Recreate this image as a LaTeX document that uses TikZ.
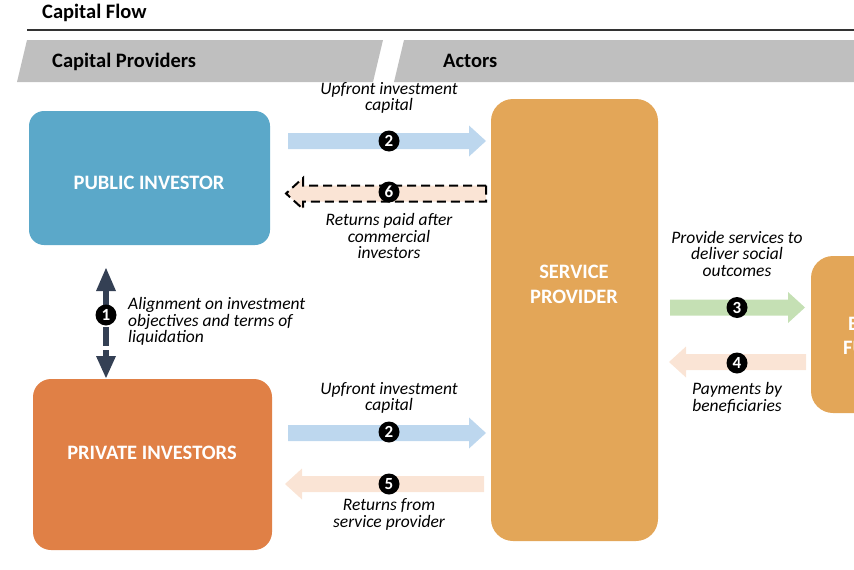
\documentclass[tikz,border=0pt]{standalone}
\usepackage{fontspec}
\setmainfont{Carlito}
\definecolor{pubblue}{RGB}{91,168,201}
\definecolor{privorange}{RGB}{224,128,70}
\definecolor{servorange}{RGB}{227,166,88}
\definecolor{bannergray}{RGB}{191,191,191}
\definecolor{arrblue}{RGB}{189,215,238}
\definecolor{arrgreen}{RGB}{197,224,180}
\definecolor{arrpeach}{RGB}{250,228,213}
\definecolor{slate}{RGB}{52,64,84}
\newcommand\blockR[4]{\path[#4] (#1,#3-8) -- (#2-17,#3-8) -- (#2-17,#3-15.5) -- (#2,#3) -- (#2-17,#3+15.5) -- (#2-17,#3+8) -- (#1,#3+8) -- cycle;}
\newcommand\blockL[4]{\path[#4] (#1,#3-8) -- (#2+17,#3-8) -- (#2+17,#3-15.5) -- (#2,#3) -- (#2+17,#3+15.5) -- (#2+17,#3+8) -- (#1,#3+8) -- cycle;}
\begin{document}
\begin{tikzpicture}[x=1pt,y=-1pt,
  bigbox/.style={text=white, font=\fontsize{20.5}{25}\selectfont\bfseries, align=center, inner sep=0pt},
  banner/.style={font=\fontsize{20.5}{24}\selectfont\bfseries, anchor=base west, inner sep=0pt},
  lbl/.style={font=\fontsize{17.5}{16.5}\selectfont\itshape, align=center},
  badge/.style={circle, fill=black, text=white, font=\fontsize{17}{17}\selectfont\bfseries, inner sep=0pt, minimum size=21pt},
]
\useasboundingbox (0,0) rectangle (854,570);
% header
\node[banner] (title) at (42,18.5) {Capital Flow};
\draw[line width=1.5pt, color=black!80] (27,30) -- (854,30);
\fill[bannergray] (27,40) -- (383,40) -- (373,82) -- (17,82) -- cycle;
\fill[bannergray] (404,40) -- (854,40) -- (854,82) -- (394,82) -- cycle;
\node[banner] (cp) at (52,67.5) {Capital Providers};
\node[banner] (act) at (443,67.5) {Actors};
% boxes
\path[fill=pubblue, rounded corners=15pt] (29,111) rectangle (270,245);
\node[bigbox] (pub) at (149,183) {PUBLIC INVESTOR};
\path[fill=privorange, rounded corners=18pt] (33,379) rectangle (272,550);
\node[bigbox] (priv) at (152,453) {PRIVATE INVESTORS};
\path[fill=servorange, rounded corners=22pt] (491,99) rectangle (658,541);
\node[bigbox] (serv) at (574,284) {SERVICE\\PROVIDER};
\path[fill=servorange, rounded corners=22pt] (811,256) rectangle (980,413);
\node[bigbox, anchor=base west] (ef1) at (848,330) {END};
\node[bigbox, anchor=base west] (ef2) at (843,354) {FUNDER};
% arrow 2 top
\blockR{288}{486}{141}{fill=arrblue}
\node[badge] (b2a) at (389,141) {2};
\node[lbl] (l2a) at (389,98) {Upfront investment\\capital};
% arrow 6
\blockL{486}{286}{193.5}{fill=arrpeach, draw=black, line width=2pt, dash pattern=on 9pt off 5pt}
\node[badge] (b6) at (389,192) {6};
\node[lbl] (l6) at (389,236) {Returns paid after\\commercial\\investors};
% arrow 1
\fill[slate] (106,268) -- (116,291) -- (96,291) -- cycle;
\fill[slate] (103,290) rectangle (109,306);
\fill[slate] (103,327) rectangle (109,346);
\fill[slate] (103,350) rectangle (109,358);
\fill[slate] (96,356) -- (116,356) -- (106,378) -- cycle;
\node[badge] (b1) at (106,315) {1};
\node[lbl, align=left, anchor=west, inner sep=0pt] (l1) at (128,321.5) {Alignment on investment\\objectives and terms of\\liquidation};
% arrow 3
\blockR{670}{805}{307.5}{fill=arrgreen}
\node[badge] (b3) at (737,307.5) {3};
\node[lbl] (l3) at (737,253.5) {Provide services to\\deliver social\\outcomes};
% arrow 4
\blockL{806}{669}{362}{fill=arrpeach}
\node[badge] (b4) at (737,363) {4};
\node[lbl] (l4) at (737,398) {Payments by\\beneficiaries};
% arrow 2 bottom
\blockR{288}{486}{433}{fill=arrblue}
\node[badge] (b2b) at (389,432) {2};
\node[lbl] (l2b) at (389,398) {Upfront investment\\capital};
% arrow 5
\blockL{484}{285}{484}{fill=arrpeach}
\node[badge] (b5) at (389,484) {5};
\node[lbl] (l5) at (389,514.5) {Returns from\\service provider};
\end{tikzpicture}
\end{document}
